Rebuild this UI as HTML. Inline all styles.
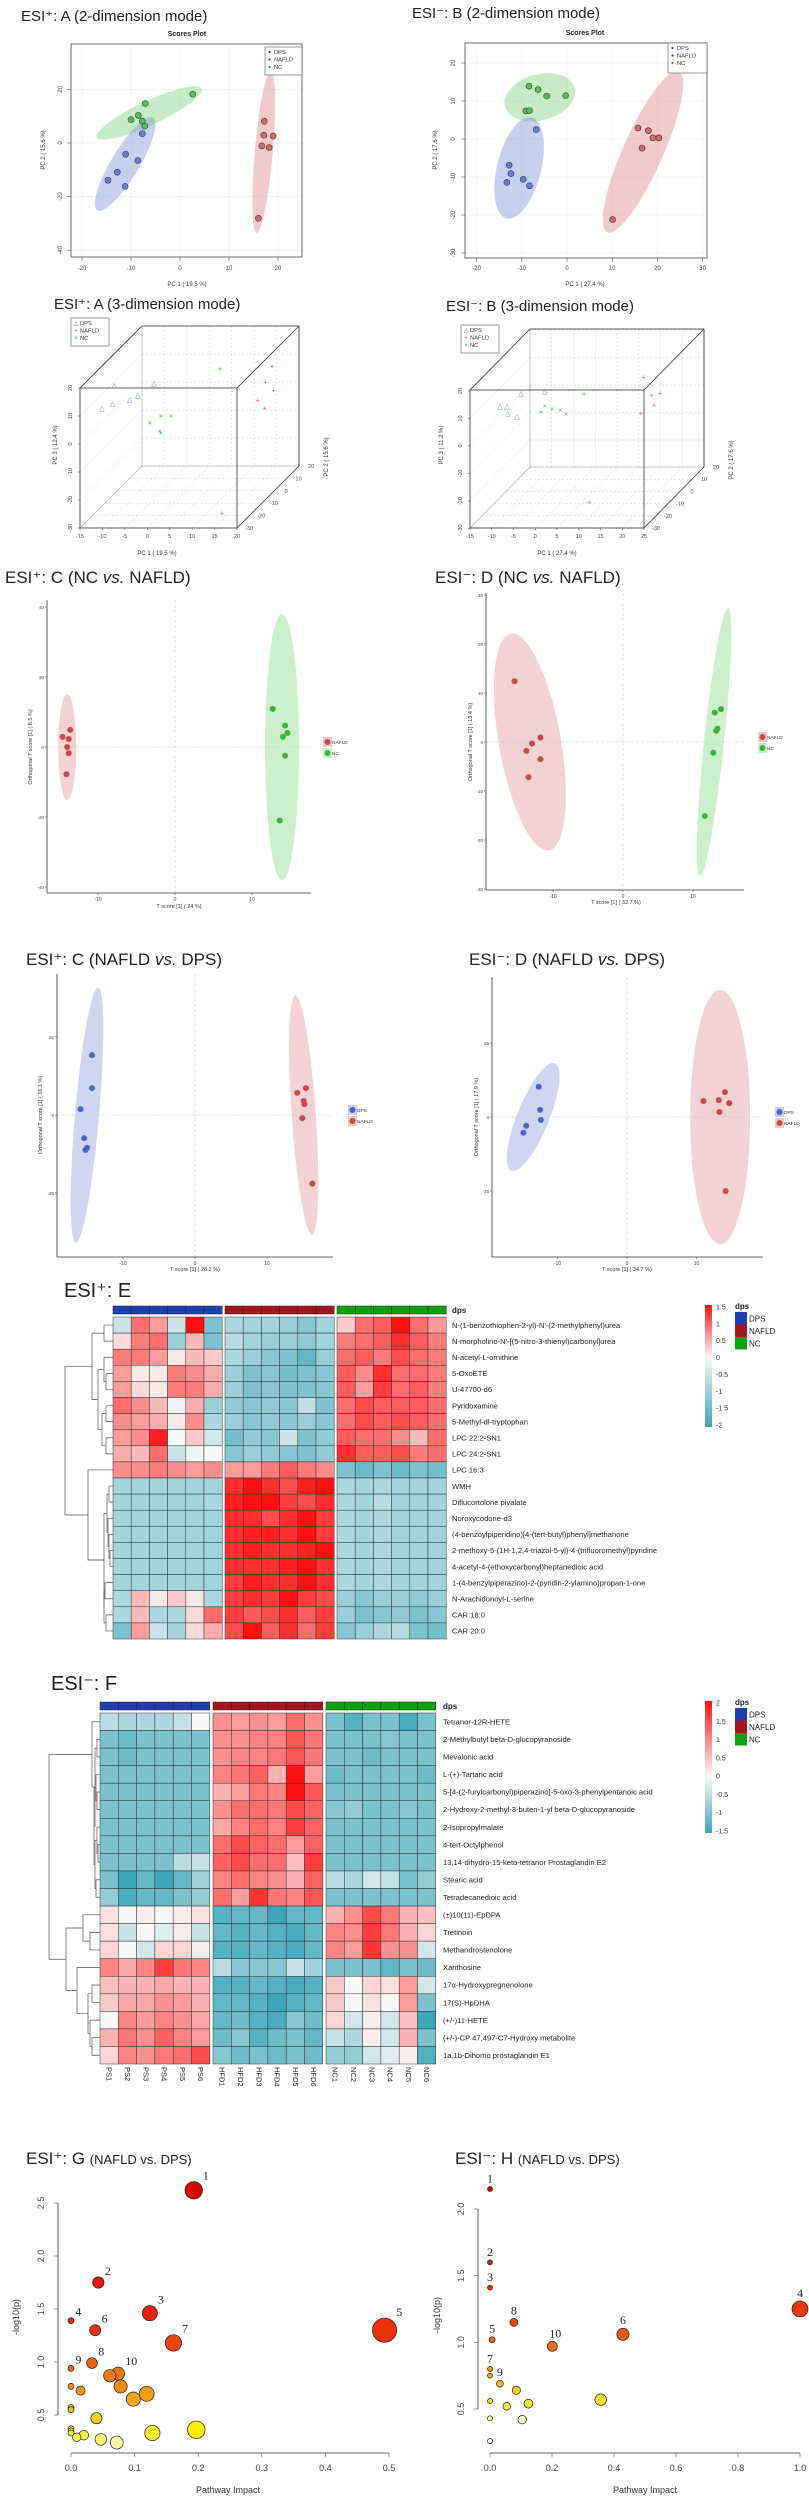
<!DOCTYPE html>
<html><head><meta charset="utf-8"><style>
html,body{margin:0;padding:0;background:#fff;}
svg{display:block;}
.t{font-family:"Liberation Sans",sans-serif;}
.tk{font-size:6px;fill:#555;}
</style></head><body>
<svg id="fig" width="809" height="2500" viewBox="0 0 809 2500" font-family="Liberation Sans, sans-serif">
<defs>
<linearGradient id="cbE" x1="0" y1="0" x2="0" y2="1"><stop offset="0" stop-color="#ff1010"/><stop offset="0.43" stop-color="#f8f8f8"/><stop offset="1" stop-color="#3ca5b9"/></linearGradient>
<linearGradient id="cbF" x1="0" y1="0" x2="0" y2="1"><stop offset="0" stop-color="#ff1010"/><stop offset="0.57" stop-color="#f8f8f8"/><stop offset="1" stop-color="#3ca5b9"/></linearGradient>
</defs>
<!-- titles -->
<text x="21" y="21" font-size="15" fill="#222">ESI⁺:   A (2-dimension mode)</text>
<text x="412" y="18" font-size="15" fill="#222">ESI⁻:   B (2-dimension mode)</text>
<text x="187" y="36" font-size="7" font-weight="bold" text-anchor="middle" fill="#222">Scores Plot</text>
<text x="585" y="35" font-size="7" font-weight="bold" text-anchor="middle" fill="#222">Scores Plot</text>
<text x="187" y="286" font-size="6" text-anchor="middle" fill="#333">PC 1 ( 19.5 %)</text>
<text transform="translate(45,150) rotate(-90)" font-size="6" text-anchor="middle" fill="#333">PC 2 ( 15.6 %)</text>
<text x="585" y="286" font-size="6" text-anchor="middle" fill="#333">PC 1 ( 27.4 %)</text>
<text transform="translate(437,150) rotate(-90)" font-size="6" text-anchor="middle" fill="#333">PC 2 ( 17.6 %)</text>

<text x="54" y="309" font-size="15" fill="#222">ESI⁺:   A (3-dimension mode)</text>
<text x="446" y="311" font-size="15" fill="#222">ESI⁻:   B (3-dimension mode)</text>
<text x="157" y="555" font-size="6" text-anchor="middle" fill="#333">PC 1 ( 19.5 %)</text>
<text transform="translate(57,445) rotate(-90)" font-size="6" text-anchor="middle" fill="#333">PC 3 ( 12.4 %)</text>
<text transform="translate(328,457) rotate(-90)" font-size="6" text-anchor="middle" fill="#333">PC 2 ( 15.6 %)</text>
<text x="557" y="555" font-size="6" text-anchor="middle" fill="#333">PC 1 ( 27.4 %)</text>
<text transform="translate(443,445) rotate(-90)" font-size="6" text-anchor="middle" fill="#333">PC 3 ( 11.2 %)</text>
<text transform="translate(733,460) rotate(-90)" font-size="6" text-anchor="middle" fill="#333">PC 2 ( 17.6 %)</text>

<text x="5" y="583" font-size="17" fill="#222">ESI⁺:   C (NC <tspan font-style="italic">vs.</tspan> NAFLD)</text>
<text x="435" y="583" font-size="17" fill="#222">ESI⁻:   D (NC <tspan font-style="italic">vs.</tspan> NAFLD)</text>
<text x="179" y="908" font-size="5.5" text-anchor="middle" fill="#333">T score [1] ( 24 %)</text>
<text transform="translate(32,747) rotate(-90)" font-size="5.5" text-anchor="middle" fill="#333">Orthogonal T score [1] ( 8.5 %)</text>
<text x="616" y="904" font-size="5.5" text-anchor="middle" fill="#333">T score [1] ( 32.7 %)</text>
<text transform="translate(472,742) rotate(-90)" font-size="5.5" text-anchor="middle" fill="#333">Orthogonal T score [1] ( 13.4 %)</text>

<text x="26" y="965" font-size="17" fill="#222">ESI⁺:   C (NAFLD <tspan font-style="italic">vs.</tspan> DPS)</text>
<text x="469" y="965" font-size="17" fill="#222">ESI⁻:   D (NAFLD <tspan font-style="italic">vs.</tspan> DPS)</text>
<text x="195" y="1271" font-size="5.5" text-anchor="middle" fill="#333">T score [1] ( 28.2 %)</text>
<text transform="translate(42,1115) rotate(-90)" font-size="5.5" text-anchor="middle" fill="#333">Orthogonal T score [1] ( 16.1 %)</text>
<text x="627" y="1271" font-size="5.5" text-anchor="middle" fill="#333">T score [1] ( 34.7 %)</text>
<text transform="translate(478,1117) rotate(-90)" font-size="5.5" text-anchor="middle" fill="#333">Orthogonal T score [1] ( 17.9 %)</text>

<text x="64" y="1297" font-size="20" fill="#222">ESI⁺: E</text>
<text x="51" y="1690" font-size="20" fill="#222">ESI⁻: F</text>

<text x="26" y="2164" font-size="17" fill="#222">ESI⁺: G <tspan font-size="13">(NAFLD vs. DPS)</tspan></text>
<text x="455" y="2164" font-size="17" fill="#222">ESI⁻: H <tspan font-size="13">(NAFLD vs. DPS)</tspan></text>
<text x="228" y="2493" font-size="9" text-anchor="middle" fill="#333">Pathway Impact</text>
<text transform="translate(19,2317) rotate(-90)" font-size="9" text-anchor="middle" fill="#333">-log10(p)</text>
<text x="645" y="2493" font-size="9" text-anchor="middle" fill="#333">Pathway Impact</text>
<text transform="translate(440,2315) rotate(-90)" font-size="9" text-anchor="middle" fill="#333">-log10(p)</text>
<g id="layer"></g>
</svg>
<script>
// ===== Panel A (2D PCA, ESI+) =====
const aDpsX=[-7.7,-11.1,-8.6,-12.8,-14.7,-11.2];
const aDpsY=[3.5,-4.2,-6.5,-10.9,-13.9,-16.2];
const aNafldX=[17.2,17.1,19.0,16.7,18.2,16.0];
const aNafldY=[8.1,2.9,2.6,-1.1,-1.7,-28.1];
const aNcX=[2.6,-7.1,-10.0,-8.5,-7.7,-7.2];
const aNcY=[18.2,14.7,8.7,10.3,8.2,6.3];
const aXTicks=[-20,-10,0,10,20];
const aYTicks=[20,0,-20,-40];
// ===== Panel B (2D PCA, ESI-) =====
const bDpsX=[-6.8,-12.8,-12.4,-13.3,-9.7,-8.3];
const bDpsY=[2.5,-6.9,-9.1,-11.4,-10.6,-12.3];
const bNafldX=[15.7,18.0,19.0,20.3,16.6,10.1];
const bNafldY=[2.9,2.2,0.3,0.3,-2.4,-21.2];
const bNcX=[-8.4,-6.4,-4.5,-0.3,-9.1,-8.3];
const bNcY=[13.9,13.0,11.3,11.4,7.4,7.5];
const bXTicks=[-20,-10,0,10,20,30];
const bYTicks=[20,10,0,-10,-20,-30];
// ===== 3D panels (PC1, PC3) =====
const a3DpsX=[-7.4,1.5,-2.1,-3.9,-7.7,-10.1];
const a3DpsZ=[21.1,21.8,17.5,16.1,14.6,12.9];
const a3NafldX=[27.8,26.4,28.2,24.6,26.2,16.6];
const a3NafldZ=[27.9,22.1,19.3,15.7,12.9,-24.6];
const a3NcX=[16.2,3.0,5.3,0.6,2.8,3.0];
const a3NcZ=[26.8,10.0,10.0,7.5,4.6,3.9];
const a3XTicks=[-15,-10,-5,0,5,10,15,20];
const a3ZTicks=[20,10,0,-10,-20,-30];
const a3YTicks=[-30,-20,-10,0,10,20];
const b3DpsX=[-3.3,2.2,-8.1,-6.5,-6.3,-4.2];
const b3DpsZ=[19.3,20.0,14.5,14.5,12.0,10.9];
const b3NafldX=[24.8,26.8,28.7,27.3,24.3,12.4];
const b3NafldZ=[25.1,18.5,19.3,14.9,12.0,-20.4];
const b3NcX=[11.2,2.2,3.9,5.7,7.1,1.3];
const b3NcZ=[18.9,14.5,13.5,13.1,11.6,12.4];
const b3XTicks=[-15,-10,-5,0,5,10,15,20,25];
const b3ZTicks=[20,10,0,-10,-20,-30];
const b3YTicks=[-30,-20,-10,0,10,20];
// ===== OPLS-DA NC vs NAFLD =====
const c1NafldX=[-13.6,-14.6,-13.8,-14.0,-13.8,-14.1];
const c1NafldY=[4.9,2.9,2.3,0.0,-1.8,-7.8];
const c1NcX=[12.7,14.3,14.6,14.0,14.3,13.6];
const c1NcY=[10.9,6.1,4.0,2.9,-2.5,-21.0];
const c1XTicks=[-10,0,10];
const c1YTicks=[40,20,0,-20,-40];
const d1NafldX=[-15.5,-11.8,-13.0,-13.8,-11.8,-13.5];
const d1NafldY=[12.4,0.9,-0.3,-1.8,-3.5,-7.2];
const d1NcX=[14.0,13.1,13.5,13.3,12.9,11.7];
const d1NcY=[6.7,6.0,2.7,2.3,-2.2,-15.1];
const d1XTicks=[-10,0,10];
const d1YTicks=[30,20,10,0,-10,-20,-30];
// ===== OPLS-DA NAFLD vs DPS =====
const c2DpsX=[-14.3,-14.3,-15.9,-15.4,-15.0,-15.2];
const c2DpsY=[19.2,8.6,1.9,-7.4,-10.5,-11.2];
const c2NafldX=[14.2,15.4,15.1,15.2,14.9,16.3];
const c2NafldY=[7.1,8.6,4.5,3.5,-1.0,-22.0];
const c2XTicks=[-10,0,10];
const c2YTicks=[25,0,-25];
const d2DpsX=[-12.7,-12.5,-12.4,-14.5,-14.9];
const d2DpsY=[10.2,2.4,-1.0,-3.0,-5.3];
const d2NafldX=[11.0,13.2,14.1,14.7,13.3,14.2];
const d2NafldY=[5.4,5.7,8.4,4.7,1.7,-25.0];
const d2XTicks=[-10,0,10];
const d2YTicks=[25,0,-25];
// ===== Heatmap E =====
const eRowNames=["N-(1-benzothiophen-2-yl)-N'-(2-methylphenyl)urea","N-morpholino-N'-[(5-nitro-3-thienyl)carbonyl]urea","N-acetyl-L-ornithine","5-OxoETE","U-47700-d6","Pyridoxamine","5-Methyl-dl-tryptophan","LPC 22:2-SN1","LPC 24:2-SN1","LPC 16:3","WMH","Diflucortolone pivalate","Noroxycodone-d3","(4-benzoylpiperidino)[4-(tert-butyl)phenyl]methanone","2-methoxy-5-(1H-1,2,4-triazol-5-yl)-4-(trifluoromethyl)pyridine","4-acetyl-4-(ethoxycarbonyl)heptanedioic acid","1-(4-benzylpiperazino)-2-(pyridin-2-ylamino)propan-1-one","N-Arachidonoyl-L-serine","CAR 18:0","CAR 20:0"];
const eValues=[
[-0.5,0.9,0.6,-0.5,1.5,-1.3,-0.8,-0.9,-0.9,-1,-1.2,-0.9,0.3,0.9,1,1.5,0.9,0.6],
[0.2,0.8,0.9,-1,0.4,-1.3,-0.7,-0.9,-1,-1,-1.1,-0.9,0.8,0.9,1,1.3,1,0.8],
[0.8,0.8,0.6,0.1,0.4,0.3,-0.8,-1,-1.2,-1.3,-1.6,-1,0.9,1,0.8,1.1,0.9,0.8],
[0.6,0.1,0.1,0.8,0.7,0.5,-1,-1.3,-1.2,-1.4,-1.3,-1.2,1,0.7,1.3,0.9,0.9,0.8],
[0.6,0.2,0.1,0.8,0.8,0.5,-1,-1.3,-1.2,-1.3,-1.3,-1.2,1,0.6,1.2,0.9,1,0.8],
[0.9,0.7,0.4,-0.1,0.5,-1,-1.1,-1.2,-1.1,-1.2,-0.6,-1.3,0.9,1.1,1,1,1,0.9],
[0.7,0.6,0.5,0.1,0.7,-0.8,-1,-1.2,-1.1,-1.2,-1,-1.2,0.9,1.1,1,1.1,1,0.9],
[0.6,0.7,1.4,0,0.3,-0.4,-1.4,-1.1,-1.2,-0.5,-1.3,-1.1,1,0.9,0.9,0.7,0.4,0.9],
[0.5,0.4,0.9,-0.5,-0.1,0,-1.2,-1,-1.1,-1.2,-1.3,-1.1,1.3,1,1,1.1,0.8,0.9],
[0.7,0.7,0.8,0.7,0.6,0.7,0.6,0.6,0.8,1,0.8,0.7,-1.3,-1.5,-1.3,-1.5,-1.3,-1.4],
[-0.9,-0.9,-0.9,-0.9,-0.9,-0.9,1.3,1.6,1.3,1.1,1.4,1.5,-0.8,-0.9,-0.8,-0.9,-0.9,-0.9],
[-0.9,-0.9,-0.9,-0.9,-0.9,-0.8,1.4,1.6,1.5,1.2,1.1,1.3,-0.8,-0.9,-0.7,-0.9,-0.9,-0.9],
[-0.9,-0.9,-0.9,-0.9,-0.9,-0.9,1.3,1.3,1.1,1.3,1.6,1.2,-0.8,-0.9,-0.8,-0.9,-0.9,-0.9],
[-0.9,-0.9,-0.9,-0.9,-0.9,-0.9,1.3,1.4,1.4,1.3,1.5,1.2,-0.8,-0.9,-0.8,-0.9,-0.9,-0.9],
[-0.9,-0.9,-0.9,-0.9,-0.9,-0.9,1.3,1.4,1.3,1.3,1.4,1.5,-0.8,-0.9,-0.8,-0.9,-0.9,-0.9],
[-0.9,-0.9,-0.9,-0.9,-0.9,-0.9,1.3,1.3,1.3,1.4,1.6,1.3,-0.8,-0.9,-0.8,-0.9,-0.9,-0.9],
[-0.9,-0.9,-0.9,-0.9,-0.9,-0.9,1.2,1.4,1.3,1.3,1.5,1.3,-0.8,-0.9,-0.8,-0.9,-0.9,-0.9],
[-0.8,0.4,0.1,0.3,0.1,-0.8,1.2,1.3,1.2,1.5,1.2,1.1,-1,-1.2,-1,-1,-1.1,-1],
[-0.8,0.4,-0.8,-0.8,0.2,0.9,1.2,1,1.1,1.3,1,1.2,-1,-1.3,-1.2,-1.1,-1.3,-1.2],
[-1.3,0.6,-0.5,-0.9,0.2,0.5,1.1,1.6,1,1.3,0.9,1.2,-1.2,-1,-0.8,-0.7,-1.3,-1.4]];
const eScaleTicks=[1.5,1,0.5,0,-0.5,-1,-1.5,-2];
// ===== Heatmap F =====
const fRowNames=["Tetranor-12R-HETE","2-Methylbutyl beta-D-glucopyranoside","Mevalonic acid","L-(+)-Tartaric acid","5-[4-(2-furylcarbonyl)piperazino]-5-oxo-3-phenylpentanoic acid","2-Hydroxy-2-methyl-3-buten-1-yl beta-D-glucopyranoside","2-Isopropylmalate","4-tert-Octylphenol","13,14-dihydro-15-keto-tetranor Prostaglandin E2","Stearic acid","Tetradecanedioic acid","(±)10(11)-EpDPA","Tretinoin","Methandrostenolone","Xanthosine","17α-Hydroxypregnenolone","17(S)-HpDHA","(+/-)11-HETE","(+/-)-CP 47,497-C7-Hydroxy metabolite","1a,1b-Dihomo prostaglandin E1"];
const fSamples=["PS1","PS2","PS3","PS4","PS5","PS6","HFD1","HFD2","HFD3","HFD4","HFD5","HFD6","NC1","NC2","NC3","NC4","NC5","NC6"];
const fValues=[
[-0.5,-0.6,-0.6,-0.6,-0.4,0,0.9,0.8,0.9,0.8,1.2,0.9,-1,-1.3,-1,-1,-1.4,-1],
[-1,-1.1,-1,-1,-1,-1,0.9,0.9,1,1,1.4,1.1,-1,-1,-1,-0.9,-1,-1],
[-1,-1.1,-1,-1,-1,-1,0.9,1,1,1.1,1.4,1.1,-1,-1,-1.1,-1,-1,-1],
[-1,-1,-1,-1,-1,-1,1,1.1,1.3,0.6,2,0.8,-1.1,-1,-1,-1,-1,-1.1],
[-1,-1,-1,-1,-1,-1,0.6,0.8,1.1,1,2,1.4,-1,-1,-1,-1,-1,-1],
[-1,-1,-1,-1,-1,-1,0.9,1.2,1.2,1.1,1.5,1.3,-0.9,-0.8,-1,-1,-0.9,-1],
[-1,-1,-1,-1,-1,-1,0.7,1,1.2,1,1.6,1.3,-1,-1,-1,-1,-1,-1],
[-1,-1,-1,-1,-1,-1,1.2,1.5,1.3,1.2,0.8,1.3,-1,-1,-1,-1,-1,-1],
[-1,-1,-1,-1,-0.5,-0.4,1.3,1.5,1.2,1.2,0.5,1.6,-1,-1,-1,-1,-1,-1],
[-1,-1.5,-1.2,-1.5,-1.2,-0.7,1,1.2,1,0.9,0.6,1.3,-0.5,-0.6,-0.3,-0.4,-1,-0.8],
[-0.8,-1.4,-1.2,-1.2,-1,-0.8,1.2,0.8,1.7,1.1,1,1.4,-1,-1,-1,-1,-1,-1],
[0.2,0,0.1,0,0.1,0.2,-1.3,-1.2,-1.2,-1.5,-1.2,-1.2,0.6,0.9,1.5,1.1,0.6,0.5],
[0.2,-0.4,0,-0.2,0.1,-0.4,-1.2,-1.3,-1.2,-1.3,-1.4,-1.2,1,0.9,1.6,1.1,0.6,0.3],
[0.3,0,-0.3,0.3,0.3,0.1,-1.3,-1.3,-1.2,-1.3,-1.4,-1.2,1,0.8,1.7,0.9,0.9,-0.3],
[1,0.7,1,1.6,1.1,1,-0.5,-0.9,-0.9,-0.9,-0.4,-0.7,-1,-1,-1,-1.2,-1,-1.1],
[0.5,0.6,0.6,0.7,0.6,0.6,-1.3,-1.3,-1.2,-1.3,-1.4,-1.3,0.4,0,0.3,0.2,0.8,-0.3],
[0.4,0.7,0.7,0.9,0.8,0.6,-1.2,-1.2,-1.3,-1.5,-1.3,-1.2,0.4,0,0.2,0,0.8,-1],
[0,1,0.8,1,0.9,0.7,-1.2,-1.1,-1.3,-1.4,-0.9,-1.1,0.3,-0.3,0.1,-0.3,0.5,-1.5],
[0.6,1.1,0.9,1.3,1,0.8,-1.1,-0.9,-1.3,-1.1,-1,-1.2,-0.4,-0.6,0.1,-0.3,0.6,-1],
[0.3,1,0.9,1.1,1.2,1.5,-0.9,-1.1,-1,-1.1,-1,-1.1,-0.8,-0.8,-0.3,-0.2,0.1,-1.3]];
const fScaleTicks=[2,1.5,1,0.5,0,-0.5,-1,-1.5];
const groupNames=["DPS","NAFLD","NC"];
// ===== Pathway G =====
const gImpact=[0.193,0.043,0.124,0.0,0.493,0.038,0.161,0.033,0.0,0.074,0.061,0.078,0.0,0.015,0.119,0.098,0.0,0.0,0.040,0.0,0.0,0.0,0.128,0.197,0.009,0.020,0.047,0.072];
const gLogP=[2.62,1.75,1.46,1.39,1.30,1.30,1.18,0.99,0.94,0.89,0.87,0.77,0.77,0.73,0.70,0.65,0.57,0.55,0.47,0.37,0.35,0.33,0.33,0.36,0.29,0.31,0.27,0.24];
const gLabels=["1","2","3","4","5","6","7","8","9","10"];
const gXTicks=[0,0.1,0.2,0.3,0.4,0.5];
const gYTicks=[0.5,1.0,1.5,2.0,2.5];
// ===== Pathway H =====
const hImpact=[0,0,0,1.0,0.007,0.429,0,0.077,0.032,0.201,0,0.085,0,0.054,0.124,0.357,0,0.104,0];
const hLogP=[2.15,1.60,1.41,1.25,1.02,1.06,0.80,1.15,0.69,0.97,0.75,0.64,0.56,0.52,0.54,0.57,0.43,0.42,0.26];
const hLabels=["1","2","3","4","5","6","7","8","9","10"];
const hXTicks=[0,0.2,0.4,0.6,0.8,1.0];
const hYTicks=[0.5,1.0,1.5,2.0];

const NS='http://www.w3.org/2000/svg';
const layer=document.getElementById('layer');
function el(tag,attrs,parent){const e=document.createElementNS(NS,tag);for(const k in attrs)e.setAttribute(k,attrs[k]);(parent||layer).appendChild(e);return e;}
function lin(d0,d1,p0,p1){return v=>p0+(v-d0)*(p1-p0)/(d1-d0);}
function fmt(v){return String(v);}

function group(name){const g=el('g',{});


return g;}

function ellipse(g,cx,cy,rx,ry,ang,fill,name){
 const e=el('ellipse',{cx:cx,cy:cy,rx:rx,ry:ry,fill:fill,transform:`rotate(${ang} ${cx} ${cy})`},g);
 
 
}
function points(g,sx,sy,xs,ys,r,fill,stroke,name){
 for(let i=0;i<xs.length;i++){
  const c=el('circle',{cx:sx(xs[i]),cy:sy(ys[i]),r:r,fill:fill,stroke:stroke,'stroke-width':0.6},g);
  
  
 }
}
function xTicks(g,sx,ticks,y0,len,ly,size,fmtf){
 ticks.forEach(v=>{const x=sx(v);
  el('line',{x1:x,y1:y0,x2:x,y2:y0+len,stroke:'#555','stroke-width':0.6},g);
  const t=el('text',{x:x,y:ly,'font-size':size,'text-anchor':'middle',fill:'#444'},g);
  t.textContent=(fmtf||fmt)(v);
  
  
 });
}
function yTicks(g,sy,ticks,x0,len,lx,size,rot,fmtf){
 ticks.forEach(v=>{const y=sy(v);
  el('line',{x1:x0,y1:y,x2:x0-len,y2:y,stroke:'#555','stroke-width':0.6},g);
  const t=el('text',rot?{transform:`translate(${lx},${y}) rotate(-90)`,'font-size':size,'text-anchor':'middle',fill:'#444'}:{x:lx,y:y+2,'font-size':size,'text-anchor':'end',fill:'#444'},g);
  t.textContent=(fmtf||fmt)(v);
  
  
 });
}
function legendBox(g,x,y,w,h,entries,marker){
 const r=el('rect',{x:x,y:y,width:w,height:h,fill:'#fff',stroke:'#555','stroke-width':0.6},g);
 
 
 entries.forEach((en,i)=>{const yy=y+5+i*7.5;
  if(marker==='dot'){el('circle',{cx:x+4.5,cy:yy,r:1.1,fill:en[1]},g);}
  else{const m=el('text',{x:x+5,y:yy+2,'font-size':6,'text-anchor':'middle',fill:en[1]},g);m.textContent=en[2];}
  const t=el('text',{x:x+9,y:yy+2,'font-size':5.8,fill:'#333'},g);t.textContent=en[0];
  
  
 });
}
function grid(g,sx,sy,xt,yt,x0,x1,y0,y1){
 xt.forEach(v=>el('line',{x1:sx(v),x2:sx(v),y1:y0,y2:y1,stroke:'#eee','stroke-width':0.6},g));
 yt.forEach(v=>el('line',{y1:sy(v),y2:sy(v),x1:x0,x2:x1,stroke:'#eee','stroke-width':0.6},g));
}

// ---------- Panel A 2D ----------
(function(){const g=group('pca-2d-esi-pos');
 const sx=lin(-20,20,82,278), sy=lin(0,20,143,89.4);
 grid(g,sx,sy,aXTicks,aYTicks,71,302,44,257);
 ellipse(g,sx(-6.3),sy(11.2),58,12,-25,'rgba(130,210,130,0.45)','ellipse-nc');
 ellipse(g,sx(-11.2),sy(-7.8),14,54,31,'rgba(130,150,215,0.45)','ellipse-dps');
 ellipse(g,sx(17.1),sy(-3.4),9,81,5,'rgba(225,140,140,0.45)','ellipse-nafld');
 points(g,sx,sy,aNcX,aNcY,3,'#5cb85c','#2f4f2f','point-nc');
 points(g,sx,sy,aDpsX,aDpsY,3,'#6b7fcf','#2f3560','point-dps');
 points(g,sx,sy,aNafldX,aNafldY,3,'#cc6b6b','#5a2a2a','point-nafld');
 const f=el('rect',{x:71,y:44,width:231,height:213,fill:'none',stroke:'#444','stroke-width':0.8},g);
 
 
 xTicks(g,sx,aXTicks,257,4,270,6);
 yTicks(g,sy,aYTicks,71,4,62,6,true);
 legendBox(g,265,47,37,28,[['DPS','#2040b0'],['NAFLD','#b02020'],['NC','#20a020']],'dot');
})();
// ---------- Panel B 2D ----------
(function(){const g=group('pca-2d-esi-neg');
 const sx=lin(0,10,567,612.2), sy=lin(0,10,139,101);
 grid(g,sx,sy,bXTicks,bYTicks,465,707,43,258);
 ellipse(g,sx(-6),sy(11),36,23,-15,'rgba(130,210,130,0.45)','ellipse-nc');
 ellipse(g,sx(-10.6),sy(-7.6),22,52,14,'rgba(130,150,215,0.45)','ellipse-dps');
 ellipse(g,sx(16.8),sy(-3.4),20,88,24,'rgba(225,140,140,0.45)','ellipse-nafld');
 points(g,sx,sy,bNcX,bNcY,3,'#5cb85c','#2f4f2f','point-nc');
 points(g,sx,sy,bDpsX,bDpsY,3,'#6b7fcf','#2f3560','point-dps');
 points(g,sx,sy,bNafldX,bNafldY,3,'#cc6b6b','#5a2a2a','point-nafld');
 const f=el('rect',{x:465,y:43,width:242,height:215,fill:'none',stroke:'#444','stroke-width':0.8},g);
 
 
 xTicks(g,sx,bXTicks,258,4,270,6);
 yTicks(g,sy,bYTicks,465,4,455,6,true);
 legendBox(g,668,43,39,30,[['DPS','#2040b0'],['NAFLD','#b02020'],['NC','#20a020']],'dot');
})();
// ---------- 3D panels ----------
function box3d(name,x0,y0,x1,y1,dx,dy,sx,sz,xt,zt,yt,dps,dpsZ,naf,nafZ,nc,ncZ,legX,legY){
 const g=group(name);
 const L='#888';
 // dashed grid on back wall and floor
 xt.forEach(v=>{const x=sx(v);el('line',{x1:x+dx,y1:y0+dy,x2:x+dx,y2:y1+dy,stroke:'#ccc','stroke-width':0.5,'stroke-dasharray':'2,2'},g);
  el('line',{x1:x,y1:y1,x2:x+dx,y2:y1+dy,stroke:'#ccc','stroke-width':0.5,'stroke-dasharray':'2,2'},g);});
 zt.forEach(v=>{const y=sz(v);el('line',{x1:x0+dx,y1:y+dy,x2:x1+dx,y2:y+dy,stroke:'#ccc','stroke-width':0.5,'stroke-dasharray':'2,2'},g);
  el('line',{x1:x0,y1:y,x2:x0+dx,y2:y+dy,stroke:'#ccc','stroke-width':0.5,'stroke-dasharray':'2,2'},g);});
 [0.2,0.4,0.6,0.8].forEach(f=>el('line',{x1:x0+dx*f,y1:y1+dy*f,x2:x1+dx*f,y2:y1+dy*f,stroke:'#ccc','stroke-width':0.5,'stroke-dasharray':'2,2'},g));
 el('rect',{x:x0+dx,y:y0+dy,width:x1-x0,height:y1-y0,fill:'none',stroke:'#aaa','stroke-width':0.6},g);
 el('line',{x1:x0,y1:y1,x2:x0+dx,y2:y1+dy,stroke:'#aaa','stroke-width':0.6},g);
 const f=el('rect',{x:x0,y:y0,width:x1-x0,height:y1-y0,fill:'none',stroke:'#333','stroke-width':0.8},g);
 
 
 [[x0,y0],[x1,y0],[x1,y1]].forEach(p=>el('line',{x1:p[0],y1:p[1],x2:p[0]+dx,y2:p[1]+dy,stroke:'#333','stroke-width':0.8},g));
 el('line',{x1:x0+dx,y1:y0+dy,x2:x1+dx,y2:y0+dy,stroke:'#333','stroke-width':0.8},g);
 el('line',{x1:x1+dx,y1:y0+dy,x2:x1+dx,y2:y1+dy,stroke:'#333','stroke-width':0.8},g);
 xTicks(g,sx,xt,y1,2,y1+10,5.5);
 yTicks(g,sz,zt,x0,2,x0-8,5.5,true);
 const sd=lin(-30,20,0,1);
 yt.forEach(v=>{const f2=sd(v);const t=el('text',{x:x1+dx*f2+12,y:y1+dy*f2+2,'font-size':5.5,'text-anchor':'middle',fill:'#444'},g);t.textContent=fmt(v);
  
  });
 const mk=(xs,zs,ch,col,nm)=>{for(let i=0;i<xs.length;i++){const t=el('text',{x:sx(xs[i]),y:sz(zs[i])+2.5,'font-size':7,'text-anchor':'middle',fill:col},g);t.textContent=ch;
  
  }};
 mk(dps,dpsZ,'△','#5a6fc0','point-dps');
 mk(naf,nafZ,'+','#d05050','point-nafld');
 mk(nc,ncZ,'×','#40b040','point-nc');
 legendBox(g,legX,legY,38,28,[['DPS','#5a6fc0','△'],['NAFLD','#d05050','+'],['NC','#40b040','×']],'char');
}
box3d('pca-3d-esi-pos',80,388,237,528,62,-62,lin(-15,20,80,237),lin(0,20,444,388),a3XTicks,a3ZTicks,a3YTicks,a3DpsX,a3DpsZ,a3NafldX,a3NafldZ,a3NcX,a3NcZ,71,318);
box3d('pca-3d-esi-neg',470,390,644,528,60,-61,lin(-15,25,470,644),lin(0,20,446,391),b3XTicks,b3ZTicks,b3YTicks,b3DpsX,b3DpsZ,b3NafldX,b3NafldZ,b3NcX,b3NcZ,461,325);

// ---------- OPLS-DA ----------
function opls(name,ax,ay0,ay1,axR,sx,sy,xt,yt,ells,series,leg){
 const g=group(name);
 ells.forEach(e=>ellipse(g,sx(e[0]),sy(0),e[1],e[2],e[3],e[4],e[5]));
 el('line',{x1:sx(0),y1:ay0,x2:sx(0),y2:ay1,stroke:'#ccc','stroke-width':0.6,'stroke-dasharray':'3,2'},g);
 el('line',{x1:ax,y1:sy(0),x2:axR,y2:sy(0),stroke:'#ccc','stroke-width':0.6,'stroke-dasharray':'3,2'},g);
 series.forEach(s=>points(g,sx,sy,s[0],s[1],3,s[2],'none',s[3]));
 const a1=el('line',{x1:ax,y1:ay0,x2:ax,y2:ay1,stroke:'#333','stroke-width':0.8},g);
 
 
 const a2=el('line',{x1:ax,y1:ay1,x2:axR,y2:ay1,stroke:'#333','stroke-width':0.8},g);
 
 
 xTicks(g,sx,xt,ay1,2,ay1+8,5);
 yTicks(g,sy,yt,ax,2,ax-3,4.5,false);
 leg[2].forEach((en,i)=>{const yy=leg[1]+i*11;
  el('rect',{x:leg[0]-3,y:yy-5,width:9,height:10,fill:en[2]},g);
  el('circle',{cx:leg[0]+1.5,cy:yy,r:3,fill:en[1]},g);
  const t=el('text',{x:leg[0]+6,y:yy+2,'font-size':4.8,fill:'#333'},g);t.textContent=en[0];
  
  });
}
const RED='#c94a4a',GRN='#3cb43c',BLU='#4a66c8',PINK='rgba(230,165,165,0.5)',LGRN='rgba(160,225,160,0.55)',LBLU='rgba(170,180,232,0.55)';
opls('opls-nc-vs-nafld-pos',47,600,893,311,lin(0,10,175,252),lin(0,20,747,677),c1XTicks,c1YTicks,
 [[-14,9,53,0,PINK,'ellipse-nafld'],[13.9,17,133,0,LGRN,'ellipse-nc']],
 [[c1NafldX,c1NafldY,RED,'point-nafld'],[c1NcX,c1NcY,GRN,'point-nc']],[326,742,[['NAFLD',RED,'#f0c8c8'],['NC',GRN,'#c8f0c8']]]);
opls('opls-nc-vs-nafld-neg',486,593,890,744,lin(0,10,623,693),lin(0,10,742,693),d1XTicks,d1YTicks,
 [[-13.3,31,110,-10,PINK,'ellipse-nafld'],[13,10,135,6,LGRN,'ellipse-nc']],
 [[d1NafldX,d1NafldY,RED,'point-nafld'],[d1NcX,d1NcY,GRN,'point-nc']],[761,737,[['NAFLD',RED,'#f0c8c8'],['NC',GRN,'#c8f0c8']]]);
opls('opls-nafld-vs-dps-pos',57,974,1257,333,lin(0,10,195,267),lin(0,25,1115,1037),c2XTicks,c2YTicks,
 [[-15,12,128,5,LBLU,'ellipse-dps'],[15.1,12,120,-4,PINK,'ellipse-nafld']],
 [[c2DpsX,c2DpsY,BLU,'point-dps'],[c2NafldX,c2NafldY,RED,'point-nafld']],[351,1110,[['DPS',BLU,'#c8d0f0'],['NAFLD',RED,'#f0c8c8']]]);
opls('opls-nafld-vs-dps-neg',492,977,1257,763,lin(0,10,627,696.5),lin(0,25,1117,1043),d2XTicks,d2YTicks,
 [[-13.5,16,58,22,LBLU,'ellipse-dps'],[13.4,30,127,0,PINK,'ellipse-nafld']],
 [[d2DpsX,d2DpsY,BLU,'point-dps'],[d2NafldX,d2NafldY,RED,'point-nafld']],[778,1112,[['DPS',BLU,'#c8d0f0'],['NAFLD',RED,'#f0c8c8']]]);

// ---------- Heatmaps ----------
function heatColor(v,vmin,vmax){const w=[248,248,248],r=[255,16,16],b=[60,165,185];
 let t,c;if(v>=0){t=Math.min(v/vmax,1);c=w.map((a,i)=>a+(r[i]-a)*t);}else{t=Math.min(v/vmin,1);c=w.map((a,i)=>a+(b[i]-a)*t);}
 return `rgb(${c.map(Math.round).join(',')})`;}
function tree(g,node,xRight,rowY){
 if(typeof node==='number'){return rowY(node);}
 const [x,a,b]=node;const ya=tree(g,a,xRight,rowY),yb=tree(g,b,xRight,rowY);
 const xa=typeof a==='number'?xRight:a[0], xb=typeof b==='number'?xRight:b[0];
 el('polyline',{points:`${xa},${ya} ${x},${ya} ${x},${yb} ${xb},${yb}`,fill:'none',stroke:'#555','stroke-width':0.7},g);
 return (ya+yb)/2;
}
function heatmap(name,vals,rows,starts,cw,y0,rh,vmin,vmax,labX,barY,grad,cbY0,cbY1,scaleTicks,treeDef,treeX,samples){
 const g=group(name);
 const cols=['#2040b0','#a31820','#10a010'];
 for(let j=0;j<18;j++){const k=Math.floor(j/6);const x=starts[k]+(j%6)*cw;
  const c=el('rect',{x:x,y:barY,width:cw,height:8,fill:cols[k],stroke:'#222','stroke-width':0.5},g);
  
  }
 const dl=el('text',{x:labX,y:barY+7,'font-size':8,'font-weight':'bold',fill:'#222'},g);dl.textContent='dps';
 vals.forEach((row,i)=>{row.forEach((v,j)=>{const k=Math.floor(j/6);
   const r=el('rect',{x:starts[k]+(j%6)*cw,y:y0+i*rh,width:cw,height:rh,fill:heatColor(v,vmin,vmax),stroke:'#333','stroke-width':0.5},g);
   
   });
  const t=el('text',{x:labX,y:y0+i*rh+rh/2+2.7,'font-size':7.6,fill:'#222',textLength:undefined},g);t.textContent=rows[i];
  t.removeAttribute('textLength');
  
  });
 tree(g,treeDef,treeX,i=>y0+i*rh+rh/2);
 if(samples){samples.forEach((s,j)=>{const k=Math.floor(j/6);const x=starts[k]+(j%6)*cw+cw/2-2.5;
  const t=el('text',{transform:`translate(${x},${y0+vals.length*rh+3}) rotate(90)`,'font-size':7.5,fill:'#222'},g);t.textContent=s;
  
  });}
 const cb=el('rect',{x:705,y:cbY0,width:7,height:cbY1-cbY0,fill:`url(#${grad})`},g);
 
 
 const sc=lin(vmax,vmin,cbY0+2,cbY1-2);
 scaleTicks.forEach(v=>{const t=el('text',{x:716,y:sc(v)+2.5,'font-size':7,fill:'#333'},g);t.textContent=fmt(v);
  
  });
 const lt=el('text',{x:735,y:cbY0+4,'font-size':8,'font-weight':'bold',fill:'#222'},g);lt.textContent='dps';
 groupNames.forEach((n,k)=>{const y=cbY0+7+k*12.5;
  el('rect',{x:735,y:y,width:12,height:12.5,fill:cols[k]},g);
  const t=el('text',{x:749,y:y+9.5,'font-size':8,fill:'#222'},g);t.textContent=n;
  
  });
}
const eTree=[65,[92,[104,0,1],[98,[104,2,[106,3,4]],[102,[106,5,6],[106,7,8]]]],[88,9,[104,[107,[109,10,11],[108,12,[109,13,[110,14,15]]]],[104,[105,16,17],[106,18,19]]]]];
const fTree=[49,[92,0,[95,[97,1,2],[94,[96,3,[97,4,5]],[95,[97,6,[98,7,8]],[96,9,10]]]]],[66,[83,11,[90,12,13]],[77,14,[88,[92,15,16],[90,17,[92,18,19]]]]]];
heatmap('heatmap-e-esi-pos',eValues,eRowNames,[113,225,337],18.2,1317,16.1,-2,1.5,452,1306,'cbE',1305,1427,eScaleTicks,eTree,113,null);
heatmap('heatmap-f-esi-neg',fValues,fRowNames,[100,213,326],18.3,1713,17.55,-1.5,2,443,1702,'cbF',1701,1833,fScaleTicks,fTree,100,fSamples);

// ---------- Pathway bubbles ----------
function bubbleColor(lp,stops){for(let i=1;i<stops.length;i++){if(lp<=stops[i][0]||i===stops.length-1){const a=stops[i-1],b=stops[i];let t=(lp-a[0])/(b[0]-a[0]);t=Math.max(0,Math.min(1,t));
 return `rgb(${[0,1,2].map(k=>Math.round(a[1][k]+(b[1][k]-a[1][k])*t)).join(',')})`;}}}
function pathway(name,imp,lp,labels,sx,sy,xt,yt,axY,axX,xR,yTop,radius,stops,labPos){
 const g=group(name);
 const order=imp.map((_,i)=>i).sort((a,b)=>radius(imp[b])-radius(imp[a]));
 order.forEach(i=>{const cx=sx(imp[i]),cy=sy(lp[i]),r=radius(imp[i]);
  const c=el('circle',{cx:cx,cy:cy,r:r,fill:bubbleColor(lp[i],stops),stroke:'#222','stroke-width':0.7},g);
  
  
  if(i<labels.length){const p=labPos(cx,cy,r);const t=el('text',{x:p[0],y:p[1],'font-size':12,'font-family':'Liberation Serif, serif',fill:'#222'},g);t.textContent=labels[i];
   
   }});
 const a=el('line',{x1:sx(xt[0]),y1:axY,x2:xR,y2:axY,stroke:'#333','stroke-width':0.8},g);
 
 
 const b=el('line',{x1:axX,y1:yTop,x2:axX,y2:sy(yt[0]),stroke:'#333','stroke-width':0.8},g);
 
 
 xTicks(g,sx,xt,axY,4,axY+18,9,v=>v.toFixed(1));
 yTicks(g,sy,yt,axX,4,axX-14,9,true,v=>v.toFixed(1));
}
pathway('pathway-g-esi-pos',gImpact,gLogP,gLabels,lin(0,0.5,71,389),lin(0.5,2.5,2415,2203),gXTicks,gYTicks,2453,58,389,2203,
 v=>3+Math.sqrt(v)*13,
 [[0.2,[255,252,225]],[0.35,[255,240,0]],[0.6,[245,175,20]],[1.0,[235,95,20]],[1.4,[232,35,10]],[2.7,[215,0,0]]],
 (cx,cy,r)=>[cx+r*0.8+2,cy-r-2]);
pathway('pathway-h-esi-neg',hImpact,hLogP,hLabels,lin(0,1,490,800),lin(0.5,2.0,2409,2209),hXTicks,hYTicks,2453,478,800,2209,
 v=>2.5+Math.sqrt(v)*5.5,
 [[0.25,[255,255,255]],[0.45,[255,250,185]],[0.55,[240,230,40]],[0.75,[240,170,30]],[1.0,[235,100,20]],[1.3,[228,50,10]],[2.2,[200,0,0]]],
 (cx,cy,r)=>[cx-3,cy-r-4]);
</script>
</body></html>
